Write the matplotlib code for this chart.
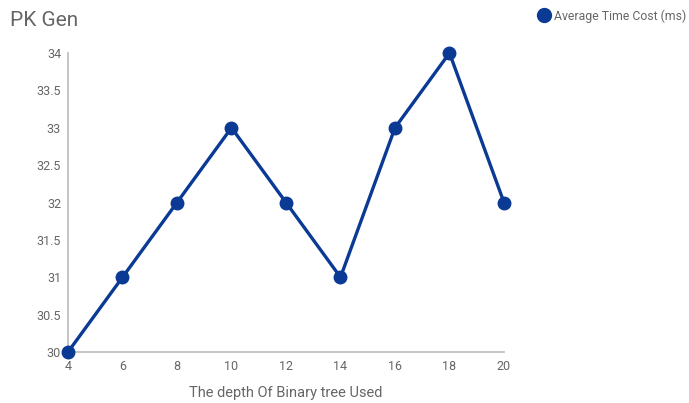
import matplotlib
matplotlib.use('Agg')
import matplotlib.pyplot as plt
from matplotlib.lines import Line2D

plt.rcParams['font.family'] = ['Roboto', 'DejaVu Sans']

depth = [4, 6, 8, 10, 12, 14, 16, 18, 20]
avg_cost = [30, 31, 32, 33, 32, 31, 33, 34, 32]
yticks = [30, 30.5, 31, 31.5, 32, 32.5, 33, 33.5, 34]

blue = '#0a3a94'
grey = '#666666'

fig = plt.figure(figsize=(6.89, 4.03), dpi=100)
ax = fig.add_axes([68/689, 51/403, (504-68)/689, (352-53)/403])

ax.plot(depth, avg_cost, color=blue, lw=2.4, marker='o', ms=9,
        clip_on=False, zorder=3)

ax.set_xlim(4, 20)
ax.set_ylim(30, 34)
ax.set_xticks(depth)
ax.set_yticks(yticks)
ax.set_yticklabels([f'{v:g}' for v in yticks])
ax.tick_params(length=0, labelsize=9, colors=grey, pad=5)
ax.tick_params(axis='x', pad=6)
for s in ['top', 'right']:
    ax.spines[s].set_visible(False)
for s in ['left', 'bottom']:
    ax.spines[s].set_color('#bbbbbb')
    ax.spines[s].set_linewidth(1.2)

ax.set_xlabel('The depth Of Binary tree Used', fontsize=10.5, color=grey, labelpad=9)

fig.text(10/689, 1 - 20/403, 'PK Gen', fontsize=15, color=grey, va='center', ha='left')

# legend, placed by hand in the top-right corner
handle = Line2D([], [], color=blue, marker='o', ls='', ms=10)
fig.legend([handle], ['Average Time Cost (ms)'], loc='center right',
           bbox_to_anchor=(686/689, 1 - 16/403), frameon=False,
           fontsize=8.8, labelcolor=grey, handletextpad=0.3, borderpad=0,
           borderaxespad=0, handlelength=1.0)

fig.savefig('out.png', dpi=100)
